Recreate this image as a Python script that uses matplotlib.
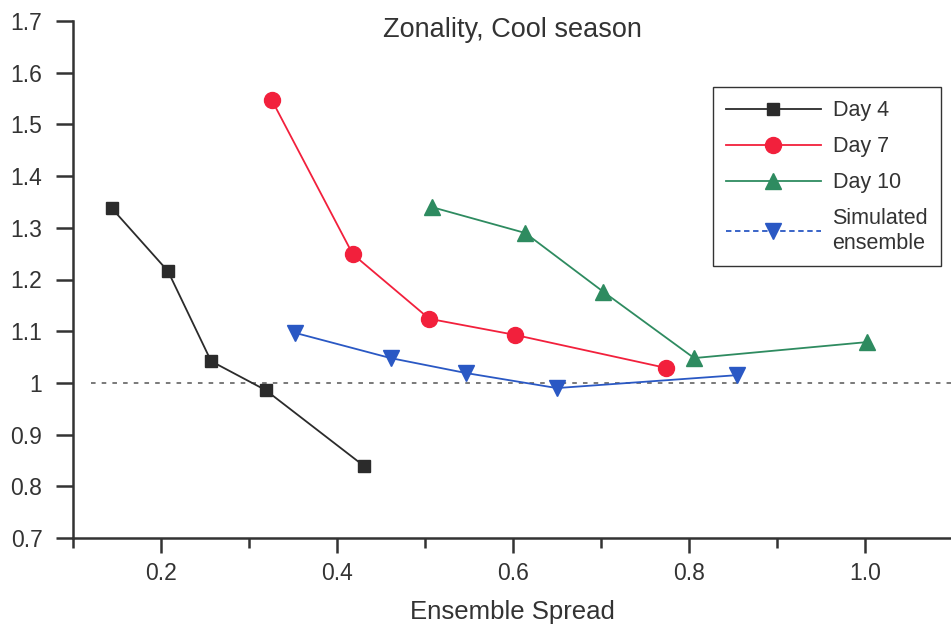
import matplotlib
matplotlib.use("Agg")
import matplotlib.pyplot as plt
from matplotlib.lines import Line2D
from matplotlib.ticker import MultipleLocator

plt.rcParams['font.family'] = ['Liberation Sans', 'DejaVu Sans']

day4_x = [0.144, 0.208, 0.257, 0.319, 0.431]
day4_y = [1.338, 1.216, 1.042, 0.986, 0.839]

day7_x = [0.326, 0.418, 0.505, 0.602, 0.774]
day7_y = [1.547, 1.249, 1.124, 1.093, 1.029]

day10_x = [0.508, 0.614, 0.703, 0.806, 1.003]
day10_y = [1.340, 1.290, 1.176, 1.048, 1.079]

sim_x = [0.352, 0.461, 0.547, 0.650, 0.855]
sim_y = [1.097, 1.048, 1.019, 0.990, 1.015]

txt = "#333333"
c4, c7, c10, csim = "#2b2b2b", "#f2203c", "#2e8b60", "#2a58c4"

fig = plt.figure(figsize=(9.51, 6.24), dpi=100)
ax = fig.add_axes([73/951, 86/624, 1 - 73/951, 517/624])

ax.plot([0.12, 1.1], [1.0, 1.0], color="#555555", lw=1.1, ls=(0, (3, 4)))

ax.plot(day4_x, day4_y, color=c4, lw=1.3, marker="s", ms=9, mfc=c4, mec=c4)
ax.plot(day7_x, day7_y, color=c7, lw=1.3, marker="o", ms=11.5, mfc=c7, mec=c7)
ax.plot(day10_x, day10_y, color=c10, lw=1.3, marker="^", ms=11.5, mfc=c10, mec=c10)
ax.plot(sim_x, sim_y, color=csim, lw=1.3, marker="v", ms=11.5, mfc=csim, mec=csim)

ax.set_xlim(0.1, 1.098)
ax.set_ylim(0.7, 1.7)

for s in ["top", "right"]:
    ax.spines[s].set_visible(False)
for s in ["left", "bottom"]:
    ax.spines[s].set_color(txt)
    ax.spines[s].set_linewidth(1.8)

ax.xaxis.set_minor_locator(MultipleLocator(0.1))
ax.set_xticks([0.2, 0.4, 0.6, 0.8, 1.0])
ax.set_xticklabels(["0.2", "0.4", "0.6", "0.8", "1.0"])
ax.set_yticks([0.7, 0.8, 0.9, 1.0, 1.1, 1.2, 1.3, 1.4, 1.5, 1.6, 1.7])
ax.set_yticklabels(["0.7", "0.8", "0.9", "1", "1.1", "1.2", "1.3", "1.4", "1.5", "1.6", "1.7"])
ax.tick_params(axis="x", which="major", length=11, width=1.8, pad=6, colors=txt, labelsize=16.5)
ax.tick_params(axis="x", which="minor", length=7, width=1.8, colors=txt)
ax.tick_params(axis="y", which="major", length=12, width=1.8, pad=10, colors=txt, labelsize=16.5)

ax.set_xlabel("Ensemble Spread", fontsize=18.5, color=txt, labelpad=11)
ax.text(0.5, 0.983, "Zonality, Cool season", transform=ax.transAxes,
        ha="center", va="center", fontsize=19.5, color=txt)

handles = [
    Line2D([], [], color=c4, lw=1.3, marker="s", ms=9, mfc=c4, mec=c4),
    Line2D([], [], color=c7, lw=1.3, marker="o", ms=11.5, mfc=c7, mec=c7),
    Line2D([], [], color=c10, lw=1.3, marker="^", ms=11.5, mfc=c10, mec=c10),
    Line2D([], [], color=csim, lw=1.3, ls=(0, (3, 2)), marker="v", ms=11.5, mfc=csim, mec=csim),
]
labels = ["Day 4", "Day 7", "Day 10", "Simulated\nensemble"]
leg = ax.legend(handles, labels, loc="upper left", bbox_to_anchor=(0.729, 0.872),
                borderaxespad=0, fontsize=15.5, handlelength=4.4, labelspacing=0.7,
                borderpad=0.6, fancybox=False, framealpha=1, edgecolor=txt,
                handletextpad=0.55)
leg.get_frame().set_linewidth(1.0)
for t in leg.get_texts():
    t.set_color(txt)

fig.savefig("out.png", dpi=100)
